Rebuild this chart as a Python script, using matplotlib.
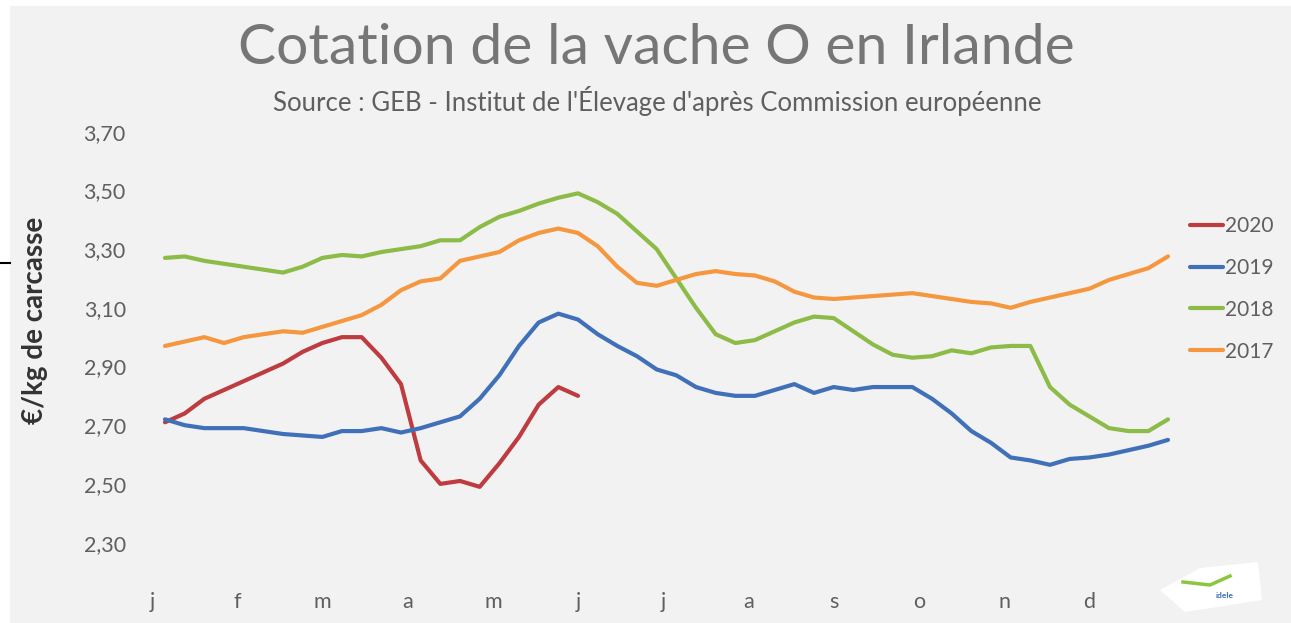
"""
Cotation de la vache O en Irlande (€/kg de carcasse), 2017-2020, par semaine.
Source : GEB - Institut de l'Élevage d'après Commission européenne.
"""
import numpy as np
import matplotlib
matplotlib.use("Agg")
import matplotlib.pyplot as plt
from matplotlib.lines import Line2D
from matplotlib.patches import Polygon, Rectangle

# ── données (une valeur par semaine) ────────────────────────────────────
mois = ["j", "f", "m", "a", "m", "j", "j", "a", "s", "o", "n", "d"]

prix_2020 = [2.71, 2.74, 2.79, 2.82, 2.85, 2.88, 2.91, 2.95, 2.98, 3.00,
             3.00, 2.93, 2.84, 2.58, 2.50, 2.51, 2.49, 2.57, 2.66, 2.77,
             2.83, 2.80]

prix_2019 = [2.72, 2.70, 2.69, 2.69, 2.69, 2.68, 2.67, 2.665, 2.66, 2.68,
             2.68, 2.69, 2.675, 2.69, 2.71, 2.73, 2.79, 2.87, 2.97, 3.05,
             3.08, 3.06, 3.01, 2.97, 2.935, 2.89, 2.87, 2.83, 2.81, 2.80,
             2.80, 2.82, 2.84, 2.81, 2.83, 2.82, 2.83, 2.83, 2.83, 2.79,
             2.74, 2.68, 2.64, 2.59, 2.58, 2.565, 2.585, 2.59, 2.60, 2.615,
             2.63, 2.65]

prix_2018 = [3.27, 3.275, 3.26, 3.25, 3.24, 3.23, 3.22, 3.24, 3.27, 3.28,
             3.275, 3.29, 3.30, 3.31, 3.33, 3.33, 3.375, 3.41, 3.43, 3.455,
             3.475, 3.49, 3.46, 3.42, 3.36, 3.30, 3.20, 3.10, 3.01, 2.98,
             2.99, 3.02, 3.05, 3.07, 3.065, 3.02, 2.975, 2.94, 2.93, 2.935,
             2.955, 2.945, 2.965, 2.97, 2.97, 2.83, 2.77, 2.73, 2.69, 2.68,
             2.68, 2.72]

prix_2017 = [2.97, 2.985, 3.00, 2.98, 3.00, 3.01, 3.02, 3.015, 3.035, 3.055,
             3.075, 3.11, 3.16, 3.19, 3.20, 3.26, 3.275, 3.29, 3.33, 3.355,
             3.37, 3.355, 3.31, 3.24, 3.185, 3.175, 3.195, 3.215, 3.225, 3.215,
             3.21, 3.19, 3.155, 3.135, 3.13, 3.135, 3.14, 3.145, 3.15, 3.14,
             3.13, 3.12, 3.115, 3.10, 3.12, 3.135, 3.15, 3.165, 3.195, 3.215,
             3.235, 3.275]

series = [
    ("2020", prix_2020, "#be3b3f"),
    ("2019", prix_2019, "#3f70b8"),
    ("2018", prix_2018, "#8cbb47"),
    ("2017", prix_2017, "#f5973f"),
]

y_ticks = [2.30, 2.50, 2.70, 2.90, 3.10, 3.30, 3.50, 3.70]

GRIS = "#5f5f5f"
FOND = "#f2f2f2"
W, H = 1291, 623

plt.rcParams["font.family"] = ["Lato", "DejaVu Sans"]

fig = plt.figure(figsize=(W / 100, H / 100), dpi=100, facecolor=FOND)

# axes placées en pixels (gauche, bas, largeur, hauteur)
L, R, T, B = 130, 1180, 120, 585
ax = fig.add_axes([L / W, 1 - B / H, (R - L) / W, (B - T) / H])
ax.set_facecolor(FOND)

for nom, vals, couleur in series:
    semaines = np.arange(1, len(vals) + 1)
    ax.plot(semaines, vals, color=couleur, lw=3, label=nom,
            solid_joinstyle="round", solid_capstyle="round")

# échelles : semaine 1 -> x=165 px, semaine 52 -> x=1168 px
px_sem = (1168 - 165) / 51
ax.set_xlim(1 - (165 - L) / px_sem, 52 + (R - 1168) / px_sem)
px_val = 293.5
ax.set_ylim(3.70 - (B - 131.7) / px_val, 3.70 + (131.7 - T) / px_val)

ax.set_yticks(y_ticks)
ax.set_yticklabels([f"{v:.2f}".replace(".", ",") for v in y_ticks])
ax.set_xticks(0.34 + np.arange(12) * 52 / 12)
ax.set_xticklabels(mois)
ax.tick_params(length=0, labelsize=15.5, labelcolor=GRIS)
ax.tick_params(axis="x", pad=5)
ax.tick_params(axis="y", pad=3)
for s in ax.spines.values():
    s.set_visible(False)

ax.set_ylabel("€/kg de carcasse", fontsize=20, fontweight="bold",
              color="#333333")
ax.yaxis.set_label_coords(-(L - 48) / (R - L), 1 - (320 - T) / (B - T))

fig.text(656 / W, 1 - 49 / H, "Cotation de la vache O en Irlande",
         ha="center", va="center", fontsize=41, color="#767676")
fig.text(657 / W, 1 - 101 / H,
         "Source : GEB - Institut de l'Élevage d'après Commission européenne",
         ha="center", va="center", fontsize=18.5, color=GRIS)

ax.legend(loc="upper left", bbox_to_anchor=(1190 / W, 1 - 216 / H),
          bbox_transform=fig.transFigure, frameon=False, fontsize=15,
          labelcolor=GRIS, handlelength=1.6, handletextpad=0.1,
          labelspacing=1.05, borderpad=0, borderaxespad=0)

# bandes blanches et petit trait au bord de l'image
fig.add_artist(Rectangle((0, 1 - 6 / H), 1, 6 / H, transform=fig.transFigure,
                         color="white", lw=0))
fig.add_artist(Rectangle((0, 0), 10 / W, 1, transform=fig.transFigure,
                         color="white", lw=0))
fig.add_artist(Line2D([0, 10 / W], [1 - 263 / H] * 2, transform=fig.transFigure,
                      color="black", lw=1.5))

# logo (simplifié)
logo = np.array([[1160, 590], [1200, 568], [1258, 562], [1262, 600],
                 [1185, 612]], dtype=float)
logo[:, 0] /= W
logo[:, 1] = 1 - logo[:, 1] / H
fig.add_artist(Polygon(logo, closed=True, transform=fig.transFigure,
                       facecolor="white", edgecolor="none"))
fig.add_artist(Line2D([1183 / W, 1210 / W, 1230 / W],
                      [1 - 582 / H, 1 - 585 / H, 1 - 576 / H],
                      transform=fig.transFigure, color="#8cc63f", lw=2.5))
fig.text(1225 / W, 1 - 595 / H, "idele", fontsize=6, fontweight="bold",
         color="#3f6cb4", ha="center", va="center")

fig.savefig("out.png", dpi=100, facecolor=FOND)
